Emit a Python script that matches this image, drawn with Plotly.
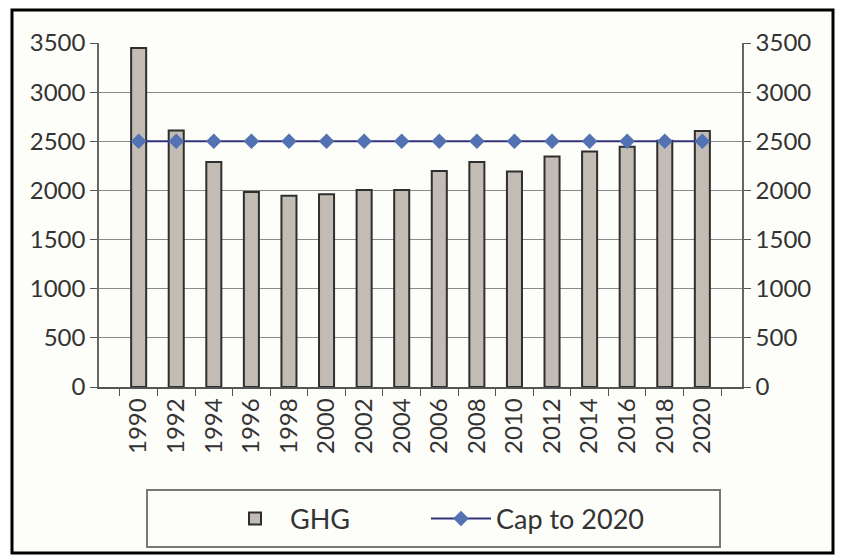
import plotly.graph_objects as go

years = ["1990", "1992", "1994", "1996", "1998", "2000", "2002", "2004",
         "2006", "2008", "2010", "2012", "2014", "2016", "2018", "2020"]
ghg = [3450, 2610, 2290, 1985, 1945, 1960, 2005, 2005,
       2198, 2288, 2192, 2345, 2395, 2445, 2505, 2605]
cap = [2500] * 16
y_ticks = [0, 500, 1000, 1500, 2000, 2500, 3000, 3500]

FONT = "Lato"
OFF = 8  # page body margin
fig = go.Figure()
fig.add_trace(go.Bar(
    x=years, y=ghg, name="GHG", legend="legend",
    marker=dict(color="#c3bcb4", line=dict(color="#2f2f2f", width=2)),
))
fig.add_trace(go.Scatter(
    x=years, y=cap, name="Cap to 2020", mode="lines+markers", yaxis="y2",
    legend="legend2",
    line=dict(color="#33337a", width=2),
    marker=dict(symbol="diamond", size=12, color="#5272b4"),
))

axis_common = dict(
    range=[0, 3500], tickvals=y_ticks, ticks="outside", ticklen=7,
    tickcolor="#555", showline=True, linecolor="#666", linewidth=1.5,
    tickfont=dict(family=FONT, size=24, color="#333"), automargin=False,
)

legend_common = dict(
    orientation="h", xref="container", yref="container",
    xanchor="left", y=1 - 511 / 557, yanchor="middle",
    font=dict(family=FONT, size=27, color="#333"),
    bgcolor="rgba(0,0,0,0)", itemwidth=60,
)

fig.update_layout(
    width=843, height=557,
    margin=dict(l=99 - OFF, r=101 + OFF, t=43 - OFF, b=170 + OFF, autoexpand=False),
    paper_bgcolor="#fdfdf9", plot_bgcolor="#fdfdf9",
    bargap=0.6,
    showlegend=True,
    xaxis=dict(
        type="category", tickangle=-90, ticks="outside", ticklen=7,
        tickson="boundaries", tickcolor="#555", showline=True,
        linecolor="#555", linewidth=1.5, showgrid=False, automargin=False,
        tickfont=dict(family=FONT, size=24, color="#333"),
    ),
    yaxis=dict(**axis_common, showgrid=True, gridcolor="#8a8a8a", gridwidth=1,
               zeroline=False),
    yaxis2=dict(**axis_common, overlaying="y", side="right", showgrid=False,
                zeroline=False),
    legend=dict(**legend_common, x=212 / 843),
    legend2=dict(**legend_common, x=418 / 843),
    shapes=[
        dict(type="rect", xref="paper", yref="paper",
             x0=(147 - 99) / 643, x1=(720 - 99) / 643,
             y0=(387 - 547) / 344, y1=(387 - 490) / 344,
             line=dict(color="#777", width=2), fillcolor="rgba(0,0,0,0)"),
        dict(type="rect", xref="paper", yref="paper",
             x0=(12 - 99) / 643, x1=(833 - 99) / 643,
             y0=(387 - 553) / 344, y1=(387 - 10) / 344,
             line=dict(color="#000", width=3), fillcolor="rgba(0,0,0,0)"),
    ],
)

fig.write_html("out.html")
